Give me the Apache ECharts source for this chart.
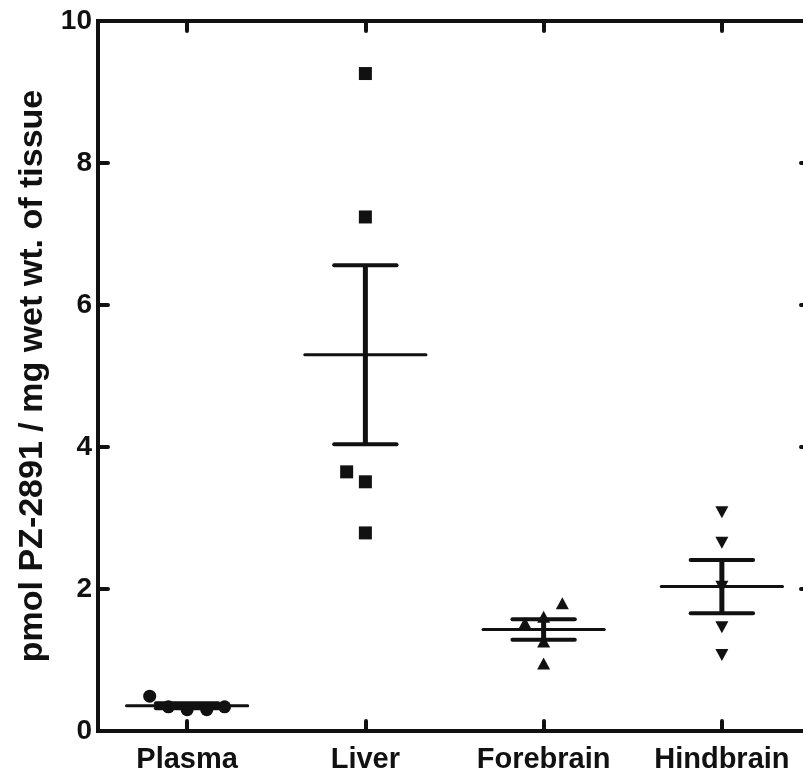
<!DOCTYPE html>
<html>
<head>
<meta charset="utf-8">
<script src="https://cdn.jsdelivr.net/npm/echarts@6/dist/echarts.min.js"></script>
<style>
html,body{margin:0;padding:0;background:#fff;overflow:hidden;width:803px;height:776px;}
#chart{width:830px;height:776px;}
</style>
</head>
<body>
<div id="chart"></div>
<script>
// ---- data ----
var categories = ['Plasma', 'Liver', 'Forebrain', 'Hindbrain'];
var yTicks = [0, 2, 4, 6, 8, 10];
var yTitle = 'pmol PZ-2891 / mg wet wt. of tissue';

var plasmaValues = [0.49, 0.34, 0.30, 0.30, 0.34];
var plasmaJitter = [-0.21, -0.105, 0, 0.11, 0.21];

var liverValues = [9.26, 7.24, 3.65, 3.51, 2.79];
var liverJitter = [0, 0, -0.105, 0, 0];

var forebrainValues = [1.80, 1.52, 1.61, 1.26, 0.95];
var forebrainJitter = [0.105, -0.105, 0, 0, 0];

var hindbrainValues = [3.08, 2.65, 2.03, 1.46, 1.07];
var hindbrainJitter = [0, 0, 0, 0, 0];

var groupMeans = [0.355, 5.30, 1.43, 2.035];
var groupSems = [0.035, 1.26, 0.145, 0.375];

// ---- build ----
var INK = '#111111';
var FONT = '"Liberation Sans", Arial, sans-serif';

function pts(idx, vals, jit) {
  return vals.map(function (v, i) { return [idx + jit[i], v]; });
}

var meanData = categories.map(function (c, i) { return [i, groupMeans[i], groupSems[i]]; });

var chart = echarts.init(document.getElementById('chart'), null, {renderer: 'canvas'});

function tickStyle() { return {show: true, inside: true, length: 10, lineStyle: {color: INK, width: 4, cap: 'round'}}; }
function lineStyle() { return {show: true, onZero: false, lineStyle: {color: INK, width: 4, cap: 'square'}}; }

chart.setOption({
  animation: false,
  backgroundColor: '#ffffff',
  grid: {left: 98, top: 21, width: 713, height: 710, containLabel: false},
  xAxis: [
    {
      type: 'category', position: 'bottom', data: categories,
      boundaryGap: true,
      axisLine: lineStyle(),
      axisTick: Object.assign({alignWithLabel: true}, tickStyle()),
      axisLabel: {color: INK, fontSize: 29, fontWeight: 'bold', fontFamily: FONT, margin: 14},
      splitLine: {show: false}
    },
    {
      type: 'category', position: 'top', data: categories,
      boundaryGap: true,
      axisLine: lineStyle(),
      axisTick: Object.assign({alignWithLabel: true}, tickStyle()),
      axisLabel: {show: false},
      splitLine: {show: false}
    },
    {
      type: 'value', min: -0.5, max: 3.5, show: false,
      axisLine: {onZero: false}
    }
  ],
  yAxis: [
    {
      type: 'value', position: 'left', min: 0, max: 10, interval: 2,
      axisLine: lineStyle(),
      axisTick: tickStyle(),
      axisLabel: {color: INK, fontSize: 28, fontWeight: 'bold', fontFamily: FONT, margin: 6,
        formatter: function (v) { return yTicks.indexOf(v) >= 0 ? String(v) : ''; }},
      splitLine: {show: false},
      name: yTitle,
      nameLocation: 'middle',
      nameGap: 48,
      nameTextStyle: {color: INK, fontSize: 34, fontWeight: 'bold', fontFamily: FONT}
    },
    {
      type: 'value', position: 'right', min: 0, max: 10, interval: 2,
      axisLine: lineStyle(),
      axisTick: tickStyle(),
      axisLabel: {show: false},
      splitLine: {show: false}
    }
  ],
  series: [
    {
      type: 'custom', xAxisIndex: 2, yAxisIndex: 0, z: 3,
      data: meanData,
      renderItem: function (params, api) {
        var x = api.value(0), m = api.value(1), s = api.value(2);
        var c = api.coord([x, m]);
        var t = api.coord([x, m + s]);
        var b = api.coord([x, m - s]);
        var unit = api.size([1, 0])[0];
        var mw = unit * 0.34, cw = unit * 0.175;
        return {
          type: 'group',
          children: [
            {type: 'line', shape: {x1: t[0], y1: t[1], x2: b[0], y2: b[1]}, style: {stroke: INK, lineWidth: 5}},
            {type: 'line', shape: {x1: c[0] - mw, y1: c[1], x2: c[0] + mw, y2: c[1]}, style: {stroke: INK, lineWidth: 3, lineCap: 'round'}},
            {type: 'line', shape: {x1: t[0] - cw, y1: t[1], x2: t[0] + cw, y2: t[1]}, style: {stroke: INK, lineWidth: 4, lineCap: 'round'}},
            {type: 'line', shape: {x1: b[0] - cw, y1: b[1], x2: b[0] + cw, y2: b[1]}, style: {stroke: INK, lineWidth: 4, lineCap: 'round'}}
          ]
        };
      }
    },
    {
      name: 'Plasma', type: 'scatter', xAxisIndex: 2, yAxisIndex: 0, z: 2,
      symbol: 'circle', symbolSize: 13,
      itemStyle: {color: INK, opacity: 1},
      data: pts(0, plasmaValues, plasmaJitter)
    },
    {
      name: 'Liver', type: 'scatter', xAxisIndex: 2, yAxisIndex: 0, z: 2,
      symbol: 'rect', symbolSize: 13,
      itemStyle: {color: INK, opacity: 1},
      data: pts(1, liverValues, liverJitter)
    },
    {
      name: 'Forebrain', type: 'scatter', xAxisIndex: 2, yAxisIndex: 0, z: 2,
      symbol: 'triangle', symbolSize: [13, 12],
      itemStyle: {color: INK, opacity: 1},
      data: pts(2, forebrainValues, forebrainJitter)
    },
    {
      name: 'Hindbrain', type: 'scatter', xAxisIndex: 2, yAxisIndex: 0, z: 2,
      symbol: 'triangle', symbolSize: [13, 12], symbolRotate: 180,
      itemStyle: {color: INK, opacity: 1},
      data: pts(3, hindbrainValues, hindbrainJitter)
    }
  ]
});
</script>
</body>
</html>
